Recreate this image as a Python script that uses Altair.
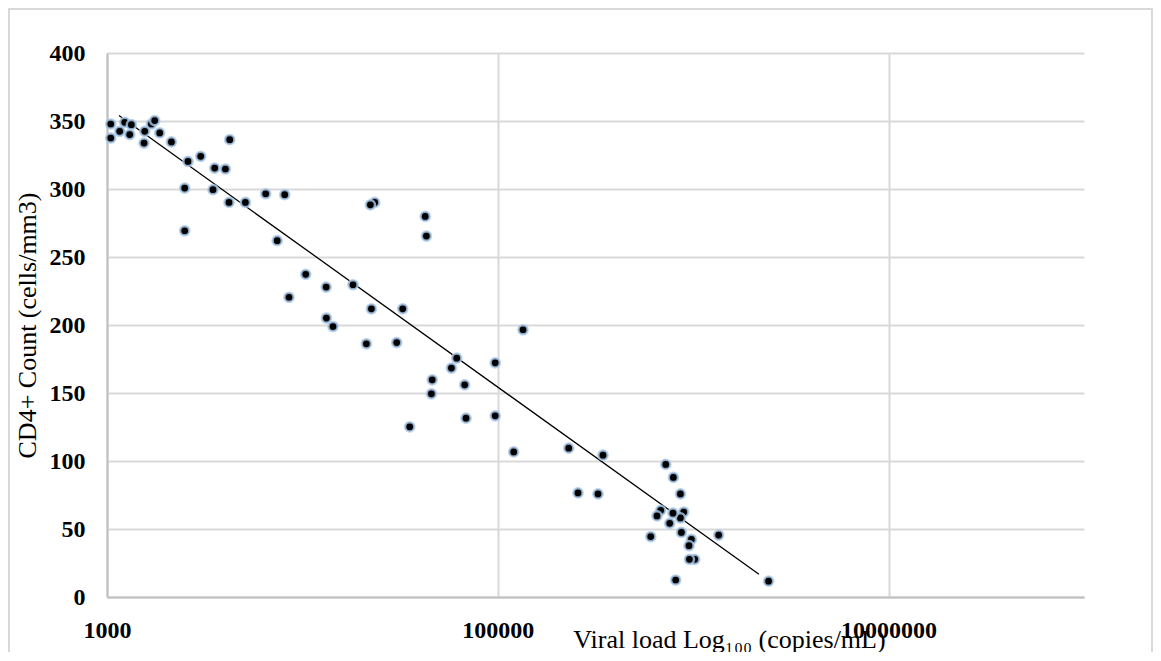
import altair as alt
import pandas as pd

# Viral load (copies/mL) and CD4+ count (cells/mm3)
viral_load = [1045, 1045, 1232, 1161, 1333, 1307, 1687, 1754, 1560, 1861,
              1547, 2136, 4246, 2597, 3017, 3557, 4036, 2498, 3487, 4211,
              5109, 6489, 8118, 2498, 7430, 10397, 8539, 13236, 18155, 23442,
              22284, 42510, 43110, 22550, 32610, 13270, 14340, 21260, 30380, 61630,
              57880, 46170, 67700, 45730, 97000, 134600, 97000, 68760, 35410, 120600,
              230600, 345400, 257300, 325700, 723500, 791800, 860300, 894400, 681900, 652700,
              860300, 758000, 606000, 870400, 979000, 951700, 1018000, 956300, 813500, 1350000,
              2430000, 788000]
cd4_count = [347.8, 337.5, 349.0, 342.4, 347.3, 340.0, 347.8, 350.3, 342.4, 341.2,
             333.8, 334.6, 336.3, 320.3, 324.0, 315.4, 314.7, 300.7, 299.5, 290.1,
             290.1, 296.5, 295.8, 269.3, 262.0, 237.3, 220.4, 227.9, 229.6, 290.1,
             288.4, 279.8, 265.4, 211.9, 211.9, 205.1, 198.9, 186.2, 187.1, 175.6,
             168.3, 159.7, 156.0, 149.4, 172.2, 196.5, 133.2, 131.5, 125.1, 106.7,
             109.4, 104.3, 76.5, 75.8, 97.5, 87.9, 75.8, 62.5, 63.7, 59.6,
             58.1, 54.2, 44.4, 47.5, 42.3, 37.7, 27.7, 27.7, 12.5, 45.5,
             11.6, 61.6]

# Logarithmic trendline end points
trend_x = [1152, 2170000]
trend_y = [354, 16.7]

x_ticks = [1000, 100000, 10000000]
y_ticks = [0, 50, 100, 150, 200, 250, 300, 350, 400]

pts = pd.DataFrame({"vl": viral_load, "cd4": cd4_count})
trend = pd.DataFrame({"vl": trend_x, "cd4": trend_y})

FONT = "Liberation Serif"

xscale = alt.Scale(type="log", domain=[1000, 100000000], nice=False)
yscale = alt.Scale(domain=[0, 400], nice=False)

xaxis = alt.Axis(
    values=x_ticks, format="d", title="Viral load Log₁₀₀ (copies/mL)",
    labelFont=FONT, labelFontSize=24, labelFontWeight="bold", labelColor="#000000",
    labelBaseline="alphabetic", labelPadding=40, labelFlush=False, labelOverlap=False,
    ticks=False, grid=True, gridColor="#d9d9d9", gridWidth=2,
    domainColor="#bfbfbf", domainWidth=2,
    titleFont=FONT, titleFontSize=26, titleFontWeight="normal", titleColor="#000000",
    titleX=622, titleY=50, titleAlign="center", titleBaseline="alphabetic",
)
yaxis = alt.Axis(
    values=y_ticks, title="CD4+ Count (cells/mm3)",
    labelFont=FONT, labelFontSize=24, labelFontWeight="bold", labelColor="#000000",
    labelPadding=22, labelFlush=False, labelOverlap=False,
    ticks=False, grid=True, gridColor="#d9d9d9", gridWidth=2,
    domainColor="#bfbfbf", domainWidth=2,
    titleFont=FONT, titleFontSize=26, titleFontWeight="normal", titleColor="#000000",
    titleX=-80, titleY=272, titleAngle=-90, titleAlign="center", titleBaseline="middle",
)

frame = alt.Chart(pd.DataFrame({"a": [0]})).mark_rect(
    fillOpacity=0, stroke="#d9d9d9", strokeWidth=2, clip=False
).encode(
    x=alt.value(-98), x2=alt.value(1045), y=alt.value(-44), y2=alt.value(700)
)

line = alt.Chart(trend).mark_line(color="#000000", strokeWidth=1.3).encode(
    x=alt.X("vl:Q", scale=xscale, axis=xaxis),
    y=alt.Y("cd4:Q", scale=yscale, axis=yaxis),
)

points = alt.Chart(pts).mark_point(
    shape="circle", filled=True, fill="#000000", fillOpacity=1,
    stroke="#a9c8ea", strokeWidth=2.5, strokeOpacity=0.8, size=85
).encode(
    x=alt.X("vl:Q", scale=xscale, axis=xaxis),
    y=alt.Y("cd4:Q", scale=yscale, axis=yaxis),
)

chart = alt.layer(frame, line, points).properties(
    width=977, height=544,
    autosize=alt.AutoSizeParams(type="none"),
    padding={"left": 99, "top": 45, "right": 69, "bottom": 55},
    background="#ffffff",
).configure_view(stroke=None)

chart.save("out.html", embed_options={"renderer": "svg", "actions": False})
